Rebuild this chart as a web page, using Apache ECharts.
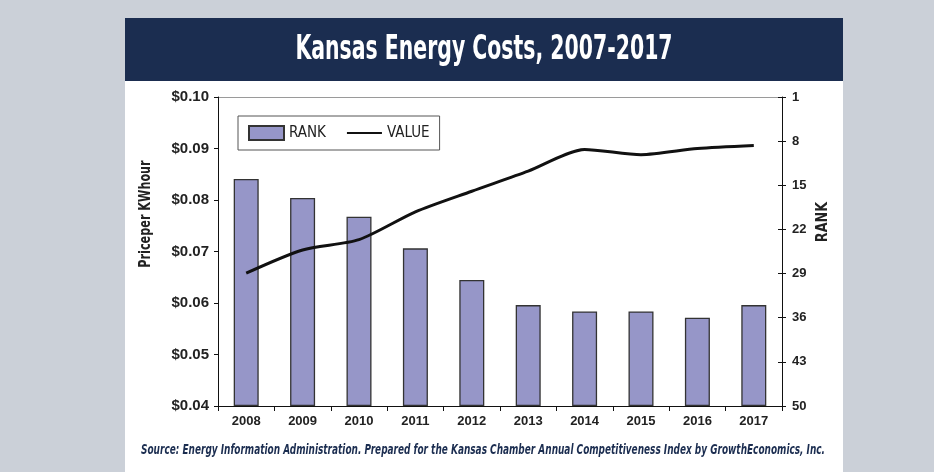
<!DOCTYPE html>
<html>
<head>
<meta charset="utf-8">
<script src="https://cdn.jsdelivr.net/npm/echarts@6/dist/echarts.min.js"></script>
<style>
  html, body { margin: 0; padding: 0; background: #cbd0d8; }
  #chart { width: 934px; height: 472px; }
</style>
</head>
<body>
<div id="chart"></div>
<script>
// ---- Data ----
const years = ['2008', '2009', '2010', '2011', '2012', '2013', '2014', '2015', '2016', '2017'];
const rankValues = [14, 17, 20, 25, 30, 34, 35, 35, 36, 34];
const priceValues = [0.0658, 0.0703, 0.0723, 0.0777, 0.0817, 0.0856, 0.0898, 0.0888, 0.0900, 0.0906];
const priceTicks = { min: 0.04, max: 0.10, step: 0.01 };
const rankTicks = { min: 1, max: 50, step: 7 };

const titleText = 'Kansas Energy Costs, 2007-2017';
const sourceText = 'Source: Energy Information Administration. Prepared for the Kansas Chamber Annual Competitiveness Index by GrowthEconomics, Inc.';
const leftAxisName = 'Priceper KWhour';
const rightAxisName = 'RANK';

const NARROW = "'DejaVu Sans Condensed', 'Liberation Sans Narrow', sans-serif";
const BOLD = "'Liberation Sans', Arial, sans-serif";

const chart = echarts.init(document.getElementById('chart'), null, { renderer: 'canvas' });

const nPriceLines = Math.round((priceTicks.max - priceTicks.min) / priceTicks.step) + 1;
const splitColors = [];
for (let i = 0; i < nPriceLines; i++) splitColors.push(i === nPriceLines - 1 ? '#9a9a9a' : 'rgba(0,0,0,0)');

chart.setOption({
  backgroundColor: '#cbd0d8',
  animation: false,
  graphic: [
    { type: 'rect', z: -10, shape: { x: 125, y: 18, width: 718, height: 460 }, style: { fill: '#ffffff' } },
    { type: 'rect', z: -9, shape: { x: 125, y: 18, width: 718, height: 63 }, style: { fill: '#1b2d50' } },
    { type: 'text', z: 10, x: 484, y: 50, scaleX: 0.668,
      style: { text: titleText, fill: '#ffffff', fontFamily: NARROW, fontWeight: 'bold', fontSize: 34,
        align: 'center', verticalAlign: 'middle' } },
    { type: 'text', z: 10, x: 483, y: 450, scaleX: 0.71,
      style: { text: sourceText, fill: '#1b2d50', fontFamily: NARROW, fontWeight: 'bold', fontStyle: 'italic', fontSize: 14,
        align: 'center', verticalAlign: 'middle' } },
    { type: 'text', z: 10, x: 146, y: 214, rotation: Math.PI / 2, scaleX: 0.78,
      style: { text: leftAxisName, fill: '#222', fontFamily: NARROW, fontWeight: 'bold', fontSize: 16,
        align: 'center', verticalAlign: 'middle' } },
    { type: 'text', z: 10, x: 823, y: 222, rotation: Math.PI / 2, scaleX: 0.95,
      style: { text: rightAxisName, fill: '#222', fontFamily: NARROW, fontWeight: 'bold', fontSize: 15,
        align: 'center', verticalAlign: 'middle' } }
  ],
  legend: {
    left: 238, top: 116,
    data: [
      { name: 'RANK', icon: 'rect' },
      { name: 'VALUE', itemStyle: { opacity: 0 } }
    ],
    borderColor: '#555', borderWidth: 1,
    padding: [9, 10, 9, 10],
    itemWidth: 35, itemHeight: 14, itemGap: 20,
    textStyle: { fontFamily: NARROW, fontSize: 15, color: '#222' },
    backgroundColor: '#fff'
  },
  grid: { left: 218, right: 152, top: 97, bottom: 66, containLabel: false },
  xAxis: {
    type: 'category',
    data: years,
    boundaryGap: true,
    axisLine: { lineStyle: { color: '#111', width: 1 } },
    axisTick: { show: true, inside: false, length: 5, alignWithLabel: false, lineStyle: { color: '#111' } },
    axisLabel: { color: '#222', fontFamily: BOLD, fontWeight: 'bold', fontSize: 13, margin: 9 }
  },
  yAxis: [
    {
      type: 'value',
      position: 'left',
      min: priceTicks.min, max: priceTicks.max, interval: priceTicks.step,
      axisLine: { show: true, lineStyle: { color: '#111' } },
      axisTick: { show: true, inside: false, length: 4, lineStyle: { color: '#111' } },
      axisLabel: { color: '#222', fontFamily: BOLD, fontWeight: 'bold', fontSize: 15, margin: 9,
        formatter: v => '$' + v.toFixed(2) },
      splitLine: { show: true, lineStyle: { color: splitColors, width: 1 } }
    },
    {
      type: 'value',
      position: 'right',
      inverse: true,
      min: rankTicks.min, max: rankTicks.max, interval: rankTicks.step,
      axisLine: { show: true, lineStyle: { color: '#111' } },
      axisTick: { show: true, inside: false, length: 4, lineStyle: { color: '#111' } },
      axisLabel: { color: '#222', fontFamily: BOLD, fontWeight: 'bold', fontSize: 13, margin: 10 },
      splitLine: { show: false }
    },
    {
      type: 'value',
      position: 'right',
      inverse: true,
      min: rankTicks.min, max: rankTicks.max, interval: rankTicks.step,
      axisLine: { show: false },
      axisTick: { show: true, inside: true, length: 4, lineStyle: { color: '#111' } },
      axisLabel: { show: false },
      splitLine: { show: false }
    }
  ],
  series: [
    {
      name: 'rank-offset',
      type: 'bar',
      yAxisIndex: 1,
      stack: 'rank',
      barWidth: 25,
      silent: true,
      itemStyle: { color: 'rgba(0,0,0,0)' },
      data: rankValues
    },
    {
      name: 'RANK',
      type: 'bar',
      yAxisIndex: 1,
      stack: 'rank',
      barWidth: 25,
      itemStyle: { color: '#9696c8', borderColor: '#333', borderWidth: 1.3 },
      data: rankValues.map(r => rankTicks.max - r)
    },
    {
      name: 'VALUE',
      type: 'line',
      yAxisIndex: 0,
      symbol: 'none',
      smooth: 0.25,
      lineStyle: { color: '#111', width: 3 },
      itemStyle: { color: '#111' },
      data: priceValues,
      z: 5
    }
  ]
});
</script>
</body>
</html>
